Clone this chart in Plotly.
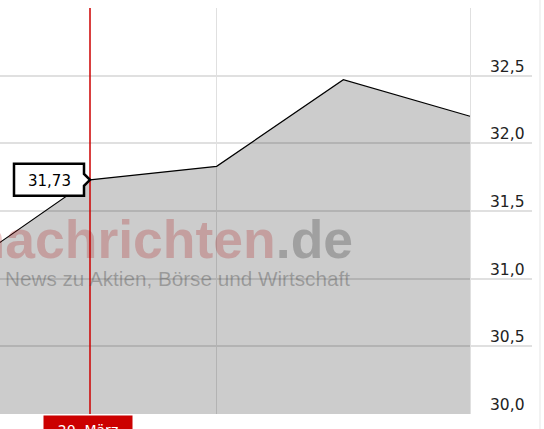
import plotly.graph_objects as go

# Kursdaten (Schlusskurse), Index = Handelstag
day_idx = [0, 1, 2, 3, 4]
day_labels = ["19. März", "20. März", "21. März", "22. März", "23. März"]
close = [31.08, 31.73, 31.83, 32.47, 32.20]

y_ticks = [30.0, 30.5, 31.0, 31.5, 32.0, 32.5, 33.0]
y_ticktext = ["30,0", "30,5", "31,0", "31,5", "32,0", "32,5", ""]

sel = 1  # markierter Tag
sel_text = "31,73"

fig = go.Figure()

fig.add_trace(go.Scatter(
    x=day_idx, y=close, mode="lines",
    line=dict(color="black", width=1.2),
    fill="tozeroy", fillcolor="rgba(0,0,0,0.2)",
    hoverinfo="skip", showlegend=False,
))

# rote Markierungslinie
fig.add_shape(type="line", x0=day_idx[sel], x1=day_idx[sel], y0=0, y1=1,
              xref="x", yref="paper", line=dict(color="#cc0000", width=1.5))

# Rahmen rechts
fig.add_shape(type="line", x0=1.015, x1=1.015, y0=-0.04, y1=1.03,
              xref="paper", yref="paper", line=dict(color="#e6e6e6", width=1))

# Callout-Box mit Spitze
fig.add_shape(type="path", xref="x", yref="y",
              xsizemode="pixel", ysizemode="pixel",
              xanchor=day_idx[sel], yanchor=close[sel],
              path="M -76,16 L -6,16 L -6,6 L 0,0 L -6,-6 L -6,-16 L -76,-16 Z",
              line=dict(color="black", width=2.5), fillcolor="white")

fig.add_annotation(x=day_idx[sel], y=close[sel], text=sel_text, showarrow=False,
                   xshift=-41, yshift=-1,
                   font=dict(family="DejaVu Sans", size=15, color="black"))

# Datum unten
fig.add_annotation(x=day_idx[sel], y=0, yref="paper", yanchor="top",
                   text=day_labels[sel], showarrow=False, yshift=-1, xshift=-2,
                   bgcolor="#cc0000", width=86, height=26, valign="middle",
                   font=dict(family="DejaVu Sans", size=14, color="white"))

# Y-Achsenbeschriftung oberhalb der Gitterlinien
for val, txt in zip(y_ticks, y_ticktext):
    if txt:
        fig.add_annotation(x=527 / 532, y=val, xref="paper", yref="y",
                           xanchor="right", yanchor="bottom", showarrow=False,
                           text=txt, yshift=-2,
                           font=dict(family="DejaVu Sans", size=15.5, color="#222"))

# Wasserzeichen
fig.add_annotation(x=355 / 532, y=31.29, xref="paper", yref="y",
                   xanchor="right", yanchor="middle", showarrow=False,
                   text="<b><span style='color:rgba(90,90,90,0.3)'>finanz</span>"
                        "<span style='color:rgba(170,0,0,0.22)'>nachrichten</span>"
                        "<span style='color:rgba(60,60,60,0.3)'>.de</span></b>",
                   font=dict(family="Liberation Sans", size=53.5))
fig.add_annotation(x=352 / 532, y=31.0, xref="paper", yref="y",
                   xanchor="right", yanchor="middle", showarrow=False,
                   text="News zu Aktien, Börse und Wirtschaft",
                   font=dict(family="Liberation Sans", size=20.7,
                             color="rgba(60,60,60,0.35)"))

fig.update_layout(
    width=544, height=429,
    margin=dict(l=0, r=12, t=8, b=15),
    plot_bgcolor="white", paper_bgcolor="white",
    xaxis=dict(range=[0.2895, 4.4895], tickvals=[0, 2, 4], showticklabels=False,
               showgrid=True, gridcolor="#e0e0e0", zeroline=False, showline=False),
    yaxis=dict(range=[30, 33], side="right", tickvals=y_ticks, showticklabels=False,
               showgrid=True, gridcolor="#e0e0e0", gridwidth=1.5,
               zeroline=False, showline=False),
)

fig.write_html("out.html", config={"displayModeBar": False},
               post_script="document.body.style.margin='0px';")
